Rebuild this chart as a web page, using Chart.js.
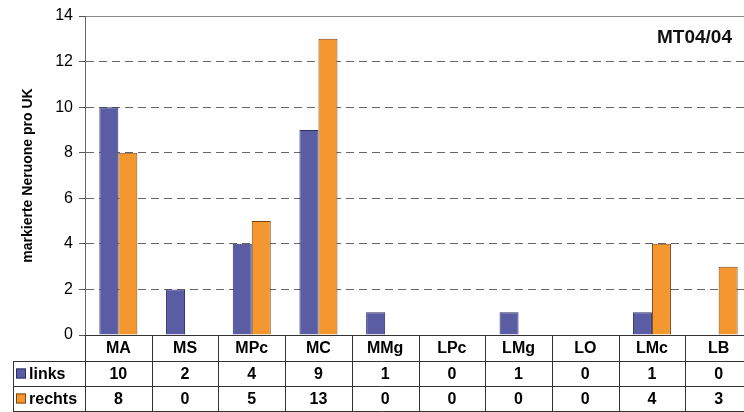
<!DOCTYPE html>
<html>
<head>
<meta charset="utf-8">
<script src="https://cdn.jsdelivr.net/npm/chart.js@4/dist/chart.umd.min.js"></script>
<style>
  html, body { margin: 0; padding: 0; background: #fff; overflow: hidden; }
  #wrap { position: relative; width: 770px; height: 412px; }
  #tag {
    position: absolute; right: 38px; top: 26px;
    font: bold 19px "Liberation Sans", Arial, sans-serif; color: #111;
  }
</style>
</head>
<body>
<div id="wrap">
  <canvas id="c" width="770" height="412"></canvas>
  <div id="tag">MT04/04</div>
</div>
<script>
// Daten aus der Abbildung
const categories = ['MA', 'MS', 'MPc', 'MC', 'MMg', 'LPc', 'LMg', 'LO', 'LMc', 'LB'];
const links = [10, 2, 4, 9, 1, 0, 1, 0, 1, 0];
const rechts = [8, 0, 5, 13, 0, 0, 0, 0, 4, 3];
const yTicks = [0, 2, 4, 6, 8, 10, 12, 14];

const FONT = '"Liberation Sans", Arial, sans-serif';
const BLUE = '#5a5ca4', BLUE_EDGE = '#2e2f66';
const ORANGE = '#f5972f', ORANGE_EDGE = '#7a4614';

// Datentabelle unter der x-Achse
const tablePlugin = {
  id: 'dataTable',
  afterDraw(chart) {
    const { ctx, chartArea, scales } = chart;
    const x = scales.x;
    const y0 = chartArea.bottom, y1 = y0 + 26, y2 = y1 + 25, y3 = y2 + 25;
    const tableLeft = 13;
    const n = categories.length;
    const half = (x.getPixelForTick(1) - x.getPixelForTick(0)) / 2;

    ctx.save();
    ctx.strokeStyle = '#333';
    ctx.lineWidth = 1;
    ctx.beginPath();
    [y1, y2, y3].forEach(yy => {
      ctx.moveTo(tableLeft, yy + 0.5);
      ctx.lineTo(chartArea.right, yy + 0.5);
    });
    ctx.moveTo(tableLeft + 0.5, y1);
    ctx.lineTo(tableLeft + 0.5, y3);
    for (let i = 0; i <= n; i++) {
      const bx = Math.round(x.getPixelForTick(0) - half + i * half * 2) + 0.5;
      ctx.moveTo(bx, y0);
      ctx.lineTo(bx, y3);
    }
    ctx.stroke();

    ctx.font = 'bold 16px ' + FONT;
    ctx.fillStyle = '#000';
    ctx.textBaseline = 'middle';
    const rows = [
      { ds: chart.data.datasets[0], yc: (y1 + y2) / 2 },
      { ds: chart.data.datasets[1], yc: (y2 + y3) / 2 }
    ];
    rows.forEach(r => {
      // Legendenkästchen
      ctx.fillStyle = r.ds.backgroundColor;
      ctx.fillRect(16, r.yc - 5, 10, 10);
      ctx.strokeStyle = r.ds.borderColor;
      ctx.strokeRect(16.5, r.yc - 4.5, 9, 9);
      ctx.fillStyle = '#000';
      ctx.textAlign = 'left';
      ctx.fillText(r.ds.label, 29, r.yc + 1);
      ctx.textAlign = 'center';
      r.ds.data.forEach((v, i) => {
        ctx.fillText(String(v), x.getPixelForTick(i), r.yc + 1);
      });
    });
    ctx.restore();
  }
};

new Chart(document.getElementById('c'), {
  type: 'bar',
  data: {
    labels: categories,
    datasets: [
      {
        label: 'links',
        data: links,
        backgroundColor: BLUE,
        borderColor: BLUE_EDGE,
        borderWidth: c => (c.raw ? 1 : 0)
      },
      {
        label: 'rechts',
        data: rechts,
        backgroundColor: ORANGE,
        borderColor: ORANGE_EDGE,
        borderWidth: c => (c.raw ? 1 : 0)
      }
    ]
  },
  options: {
    responsive: false,
    animation: false,
    devicePixelRatio: 1,
    layout: { padding: { top: 16, right: 18, bottom: 0, left: 0 } },
    datasets: { bar: { categoryPercentage: 0.57, barPercentage: 1 } },
    plugins: {
      legend: { display: false },
      tooltip: { enabled: false }
    },
    scales: {
      x: {
        afterFit(scale) { scale.height = 77; },
        grid: { display: false, drawTicks: false },
        border: { display: true, color: '#333' },
        ticks: {
          color: '#000',
          padding: 4,
          font: { family: FONT, size: 16, weight: 'bold' }
        }
      },
      y: {
        min: 0,
        max: 14,
        afterFit(scale) { scale.width = 85; },
        afterBuildTicks(scale) { scale.ticks = yTicks.map(v => ({ value: v })); },
        grid: {
          color: c => (c.tick && c.tick.value === 14 ? '#8a8a8a' : '#666'),
          tickColor: '#555',
          tickLength: 6
        },
        border: {
          display: true,
          color: '#666',
          dash: c => (c.tick && c.tick.value > 0 && c.tick.value < 14 ? [8, 5] : [])
        },
        ticks: {
          color: '#000',
          padding: 6,
          font: { family: FONT, size: 16 }
        },
        title: {
          display: true,
          text: 'markierte Neruone pro UK',
          color: '#000',
          padding: { top: 20, bottom: 0 },
          font: { family: FONT, size: 14, weight: 'bold' }
        }
      }
    }
  },
  plugins: [tablePlugin]
});
</script>
</body>
</html>
